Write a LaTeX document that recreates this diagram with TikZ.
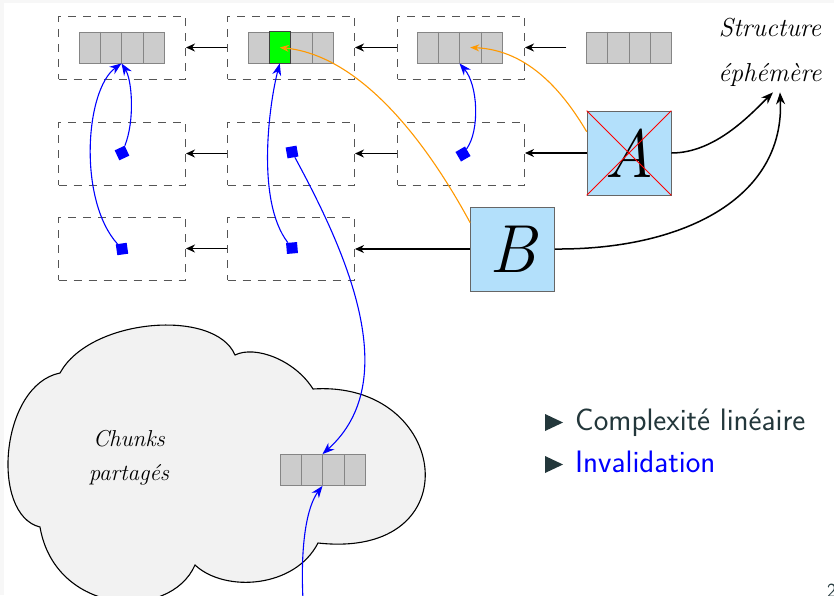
\documentclass[tikz,border=0pt]{standalone}
\usepackage{fontspec}
\usetikzlibrary{arrows.meta,calc}
\definecolor{gfill}{HTML}{CCCCCC}
\definecolor{gline}{HTML}{858585}
\definecolor{dashc}{HTML}{555555}
\definecolor{lblue}{HTML}{B3E0FB}
\definecolor{orng}{HTML}{FF9900}
\definecolor{txt}{HTML}{23373B}
\definecolor{cloudc}{HTML}{F2F2F2}
\definecolor{slidebg}{HTML}{F7F7F7}
\newcommand{\chunkdiv}[1]{%
  \foreach \f in {0.25,0.5,0.75}
    \draw[gline, line width=0.8pt] ($(#1.north west)!\f!(#1.north east)$) -- ($(#1.south west)!\f!(#1.south east)$);}
\begin{document}
\begin{tikzpicture}[x=1pt,y=-1pt,
  slot/.style={draw=dashc, dash pattern=on 8pt off 7pt, line width=1pt, minimum width=127pt, minimum height=63pt, inner sep=0pt},
  ghost/.style={minimum width=127pt, minimum height=63pt, inner sep=0pt},
  chunkbox/.style={draw=gline, fill=gfill, line width=0.8pt, minimum width=85pt, minimum height=31pt, inner sep=0pt},
  ptr/.style={fill=blue, minimum size=11pt, inner sep=0pt},
  link/.style={-{Stealth[length=9pt,width=8pt]}, line width=1.4pt},
  bptr/.style={blue, line width=1.1pt, -{Stealth[length=12pt,width=9pt]}},
  optr/.style={orng, line width=1.1pt, -{Stealth[length=9pt,width=7pt]}},
  kptr/.style={black, line width=1.5pt, -{Stealth[length=12pt,width=9pt]}},
  ver/.style={draw=gray!80!black, fill=lblue, line width=0.7pt, minimum size=84pt, inner sep=0pt},
  hand/.style={inner sep=0pt, align=center}
]
\useasboundingbox (0,0) rectangle (834,595);
\fill[white] (0,0) rectangle (834,595);
\fill[slidebg] (0,0) rectangle (4,595);
\fill[slidebg] (0,0) rectangle (834,3);

% cloud
\filldraw[fill=cloudc, draw=black, line width=1.1pt]
  (60,373) .. controls (90,318) and (215,308) .. (235,355)
  .. controls (255,345) and (295,360) .. (313,389)
  .. controls (450,380) and (473,560) .. (318,543)
  .. controls (295,588) and (225,593) .. (195,565)
  .. controls (170,622) and (55,615) .. (40,527)
  .. controls (-10,515) and (0,385) .. (60,373) -- cycle;
\node[hand, font=\itshape\fontsize{23}{34}\selectfont] (chk) at (129,458) {Chunks\\partagés};
\node[chunkbox] (a5) at (322.5,470) {};
\chunkdiv{a5}

% dashed slots
\node[slot] (s11) at (122,47.5) {};
\node[slot] (s12) at (291,47.5) {};
\node[slot] (s13) at (461,47.5) {};
\node[ghost] (g14) at (630,47.5) {};
\node[slot] (s21) at (122,153.5) {};
\node[slot] (s22) at (291,153.5) {};
\node[slot] (s23) at (461,153.5) {};
\node[slot] (s31) at (122,248.5) {};
\node[slot] (s32) at (291,248.5) {};

% chunk arrays
\node[chunkbox] (a11) at (121.5,47.5) {};
\node[chunkbox] (a12) at (290.5,47.5) {};
\node[chunkbox] (a13) at (459.5,47.5) {};
\node[chunkbox] (a14) at (629,47.5) {};
\fill[green] ($(a12.south west)!0.25!(a12.south east)$) rectangle ($(a12.north west)!0.5!(a12.north east)$);
\chunkdiv{a11}\chunkdiv{a12}\chunkdiv{a13}\chunkdiv{a14}
\draw[black!75, line width=1pt] ($(a12.south west)!0.25!(a12.south east)$) rectangle ($(a12.north west)!0.5!(a12.north east)$);

% versions
\node[ver, font=\itshape\fontsize{68}{68}\selectfont] (A) at (629,153) {A};
\draw[red, line width=0.9pt] (A.north west) -- (A.south east) (A.north east) -- (A.south west);
\node[ver, font=\itshape\fontsize{68}{68}\selectfont] (B) at (512.5,249) {B};

% pointers
\node[ptr, rotate=25] (p21) at (122,153) {};
\node[ptr, rotate=10] (p22) at (292,152) {};
\node[ptr, rotate=30] (p23) at (463,154) {};
\node[ptr, rotate=8] (p31) at (122,249) {};
\node[ptr, rotate=5] (p32) at (292,248) {};

% horizontal links
\draw[link] (s12.west) -- (s11.east);
\draw[link] (s13.west) -- (s12.east);
\draw[link] (g14.west) -- (s13.east);
\draw[link] (s22.west) -- (s21.east);
\draw[link] (s23.west) -- (s22.east);
\draw[link] (A.west) -- (A.west -| s23.east);
\draw[link] (s32.west) -- (s31.east);
\draw[link] (B.west) -- (B.west -| s32.east);

% blue pointers
\draw[bptr] (p21) .. controls (135,120) and (132,80) .. (a11.south);
\draw[bptr] (p31) .. controls (78,200) and (85,90) .. (a11.south);
\draw[bptr] (p32) .. controls (255,200) and (270,100) .. ($(a12.south west)!0.375!(a12.south east)$);
\draw[bptr] (p22) .. controls (345,250) and (405,380) .. (a5.north);
\draw[bptr] (p23) .. controls (480,130) and (478,85) .. (a13.south);
\coordinate (bot) at (303,600);
\draw[bptr] (bot) .. controls (300,540) and (308,505) .. (a5.south);

% orange pointers
\draw[optr] ([yshift=-21pt]A.north west) .. controls (565,95) and (530,50) .. ($(a13.west)!0.625!(a13.east)$);
\draw[optr] ([yshift=-16pt]B.north west) .. controls (420,130) and (355,55) .. ($(a12.west)!0.375!(a12.east)$);

% ephemeral structure
\node[hand, font=\itshape\fontsize{26}{45}\selectfont] (eph) at (770,52) {Structure\\éphémère};
\draw[kptr] (A.east) .. controls (715,153) and (750,115) .. ([xshift=3pt,yshift=-6pt]eph.south);
\draw[kptr] (B.east) .. controls (680,250) and (785,200) .. ([xshift=10pt,yshift=-6pt]eph.south);

% bullets
\fill[txt] (545,414) -- (563,422.5) -- (545,431) -- cycle;
\fill[txt] (545,456) -- (563,464.5) -- (545,473) -- cycle;
\node[anchor=base west, inner sep=0pt, text=txt, font=\sffamily\fontsize{31}{31}\selectfont] (it1) at (575,430) {Complexité linéaire};
\node[anchor=base west, inner sep=0pt, text=blue, font=\sffamily\fontsize{31}{31}\selectfont] (it2) at (575,472) {Invalidation};
\node[anchor=north west, inner sep=0pt, text=txt, font=\sffamily\fontsize{20}{20}\selectfont] (pg) at (827,584) {2};
\end{tikzpicture}
\end{document}
